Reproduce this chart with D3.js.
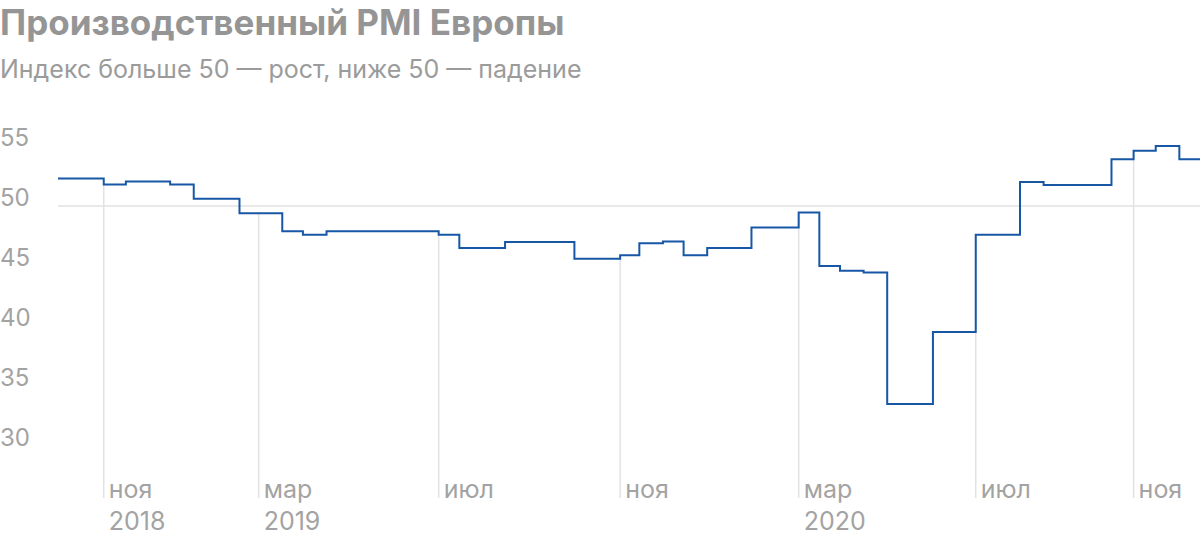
<!DOCTYPE html>
<html>
<head>
<meta charset="utf-8">
<script src="https://cdn.jsdelivr.net/npm/d3@7"></script>
<style>
  body { margin: 0; background: #fff; }
  text { font-family: Inter, Roboto, "Noto Sans", sans-serif; }
</style>
</head>
<body>
<div class="plot"></div>
<script>
// даты смены значения (ступенька начинается с этой даты)
var dates = ["2018-10-16", "2018-11-16", "2018-12-01", "2018-12-31", "2019-01-16",
  "2019-02-16", "2019-03-17", "2019-03-31", "2019-04-16", "2019-07-01",
  "2019-07-15", "2019-08-15", "2019-10-01", "2019-11-01", "2019-11-14",
  "2019-11-30", "2019-12-14", "2019-12-30", "2020-01-29", "2020-03-01",
  "2020-03-15", "2020-03-29", "2020-04-14", "2020-04-30", "2020-05-31",
  "2020-06-29", "2020-07-29", "2020-08-14", "2020-09-29", "2020-10-14",
  "2020-10-29", "2020-11-14"];
var pmi = [52.3, 51.8, 52.05, 51.8, 50.6,
  49.4, 47.9, 47.6, 47.9, 47.6,
  46.5, 47.0, 45.6, 45.9, 46.9,
  47.05, 45.9, 46.5, 48.2, 49.45,
  45.0, 44.6, 44.45, 33.5, 39.5,
  47.6, 52.0, 51.75, 53.9, 54.6,
  55.0, 53.9];
var endDate = "2020-11-28";

var yTicks = [30, 35, 40, 45, 50, 55];
var xTickDates = ["2018-11-16", "2019-03-01", "2019-07-01", "2019-11-01", "2020-03-01", "2020-06-29", "2020-10-14"];
var xTickMonths = ["ноя", "мар", "июл", "ноя", "мар", "июл", "ноя"];
var xTickYears = ["2018", "2019", "", "", "2020", "", ""];

var parse = d3.utcParse("%Y-%m-%d");
var data = dates.map(function(d, i) { return { date: parse(d), value: pmi[i] }; });
data.push({ date: parse(endDate), value: pmi[pmi.length - 1] });

var svg = d3.select(".plot").append("svg")
  .attr("width", 1200)
  .attr("height", 542);

svg.append("text")
  .attr("x", 0).attr("y", 35)
  .style("font-size", "35px")
  .style("font-weight", "bold")
  .style("fill", "#959595")
  .text("Производственный PMI Европы");

svg.append("text")
  .attr("x", 0).attr("y", 78)
  .style("font-size", "25px")
  .style("fill", "#9b9b9b")
  .text("Индекс больше 50 — рост, ниже 50 — падение");

var x = d3.scaleUtc()
  .domain([parse(dates[0]), parse(endDate)])
  .range([58, 1200]);

var y = d3.scaleLinear()
  .domain([30, 55])
  .range([446, 146]);

var bottom = 498;

// значение ступеньки на дату
var bisect = d3.bisector(function(d) { return d.date; }).right;
function valueAt(dt) {
  var i = bisect(data, dt) - 1;
  return data[Math.max(0, i)].value;
}

// линия 50
svg.append("line")
  .attr("x1", 58).attr("x2", 1200)
  .attr("y1", y(50)).attr("y2", y(50))
  .style("stroke", "#e2e2e2")
  .style("stroke-width", 1.5);

// вертикальные линии от графика вниз
var ticks = xTickDates.map(function(d, i) {
  return { date: parse(d), month: xTickMonths[i], year: xTickYears[i] };
});

svg.selectAll(".vgrid")
  .data(ticks)
  .enter()
  .append("line")
  .attr("class", "vgrid")
  .attr("x1", function(d) { return x(d.date); })
  .attr("x2", function(d) { return x(d.date); })
  .attr("y1", function(d) { return y(valueAt(d.date)); })
  .attr("y2", bottom)
  .style("stroke", "#e2e2e2")
  .style("stroke-width", 1.5);

svg.selectAll(".month")
  .data(ticks)
  .enter()
  .append("text")
  .attr("class", "month")
  .attr("x", function(d) { return x(d.date) + 5; })
  .attr("y", 498)
  .style("font-size", "25px")
  .style("fill", "#a3a3a3")
  .text(function(d) { return d.month; });

svg.selectAll(".year")
  .data(ticks)
  .enter()
  .append("text")
  .attr("class", "year")
  .attr("x", function(d) { return x(d.date) + 5; })
  .attr("y", 530)
  .style("font-size", "25px")
  .style("fill", "#a3a3a3")
  .text(function(d) { return d.year; });

svg.selectAll(".ylab")
  .data(yTicks)
  .enter()
  .append("text")
  .attr("class", "ylab")
  .attr("x", 0)
  .attr("y", function(d) { return y(d); })
  .style("font-size", "24px")
  .style("fill", "#a3a3a3")
  .text(function(d) { return d; });

var line = d3.line()
  .x(function(d) { return x(d.date); })
  .y(function(d) { return y(d.value); })
  .curve(d3.curveStepAfter);

svg.append("path")
  .datum(data)
  .attr("d", line)
  .style("fill", "none")
  .style("stroke", "#1757a6")
  .style("stroke-width", 2);
</script>
</body>
</html>
